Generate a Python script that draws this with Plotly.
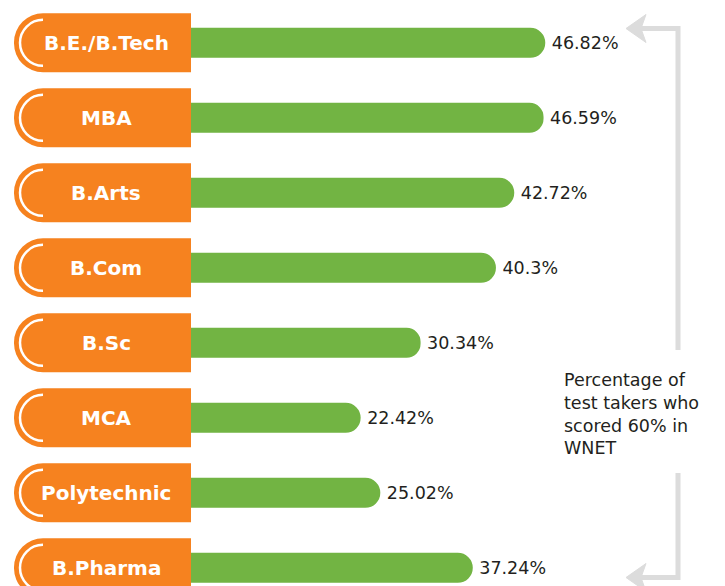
import plotly.graph_objects as go

# ---- data ----
categories = ["B.E./B.Tech", "MBA", "B.Arts", "B.Com", "B.Sc", "MCA", "Polytechnic", "B.Pharma"]
values = [46.82, 46.59, 42.72, 40.3, 30.34, 22.42, 25.02, 37.24]
value_labels = [f"{v}%" for v in values]
note_text = "Percentage of<br>test takers who<br>scored 60% in<br>WNET"

# ---- style ----
W, H = 725, 586
ORANGE = "#F6821F"
GREEN = "#72B443"
GREY = "#DCDCDC"
DARK = "#231F20"

X_MIN, X_MAX = -25.24, 70.57     # data range across full width
LABEL_LEN = 23.39                 # length of orange label tab (data units)
LABEL_CENTER = -11.23             # center of label text (data units)

def fx(px):
    return px / W

def fy(py):
    return 1 - py / H

fig = go.Figure()

# orange label tabs (rounded on the left end)
fig.add_trace(go.Bar(
    y=categories, x=[-LABEL_LEN] * len(categories),
    orientation="h", width=0.787,
    marker=dict(color=ORANGE, cornerradius="50%", line=dict(width=0)),
    hoverinfo="skip", showlegend=False,
))

# green value bars
fig.add_trace(go.Bar(
    y=categories, x=values,
    orientation="h", width=0.40,
    marker=dict(color=GREEN, cornerradius="50%", line=dict(width=0)),
    text=["\u2009" + t for t in value_labels], textposition="outside",
    textfont=dict(family="DejaVu Sans", size=17.5, color=DARK),
    cliponaxis=False, constraintext="none",
    hoverinfo="skip", showlegend=False,
))

shapes = []
annotations = []
r = 23
k = 0.5523 * r
cx = 29
arc = (f"M {cx},{r} C {cx - k},{r} {cx - r},{k} {cx - r},0 "
       f"C {cx - r},{-k} {cx - k},{-r} {cx},{-r}")
for c in categories:
    shapes.append(dict(
        type="path", xref="x", yref="y",
        xsizemode="pixel", ysizemode="pixel",
        xanchor=-LABEL_LEN, yanchor=c,
        path=arc, line=dict(color="white", width=2.5),
    ))
    annotations.append(dict(
        x=LABEL_CENTER, y=c, xref="x", yref="y", text=c, showarrow=False,
        font=dict(family="DejaVu Sans", size=20, color="white", weight="bold"),
        xanchor="center", yanchor="middle",
    ))

# bracket with arrows
def pth(points, close=False):
    s = "M " + " L ".join(f"{fx(x)},{fy(y)}" for x, y in points)
    return s + (" Z" if close else "")

shapes.append(dict(type="path", xref="paper", yref="paper",
                   path=pth([(638, 28.5), (678, 28.5), (678, 350)]),
                   line=dict(color=GREY, width=5)))
shapes.append(dict(type="path", xref="paper", yref="paper",
                   path=pth([(678, 473), (678, 577.5), (638, 577.5)]),
                   line=dict(color=GREY, width=5)))
shapes.append(dict(type="path", xref="paper", yref="paper",
                   path=pth([(626, 28.5), (646, 14.5), (641, 28.5), (646, 42.5)], close=True),
                   fillcolor=GREY, line=dict(color=GREY, width=1)))
shapes.append(dict(type="path", xref="paper", yref="paper",
                   path=pth([(626, 577.5), (646, 563.5), (641, 577.5), (646, 591.5)], close=True),
                   fillcolor=GREY, line=dict(color=GREY, width=1)))

annotations.append(dict(
    x=fx(562), y=fy(368), xref="paper", yref="paper",
    text=note_text, showarrow=False, align="left",
    xanchor="left", yanchor="top",
    font=dict(family="DejaVu Sans", size=17.5, color=DARK),
))

fig.update_layout(
    width=W, height=H,
    margin=dict(l=0, r=0, t=0, b=0),
    paper_bgcolor="white", plot_bgcolor="white",
    barmode="overlay", showlegend=False,
    xaxis=dict(range=[X_MIN, X_MAX], visible=False, fixedrange=True),
    yaxis=dict(range=[7.243, -0.571], visible=False, type="category", fixedrange=True),
    shapes=shapes, annotations=annotations,
)

fig.write_html(
    "out.html",
    config={"displayModeBar": False},
    post_script="document.body.style.margin='0';document.body.style.overflow='hidden';",
)
